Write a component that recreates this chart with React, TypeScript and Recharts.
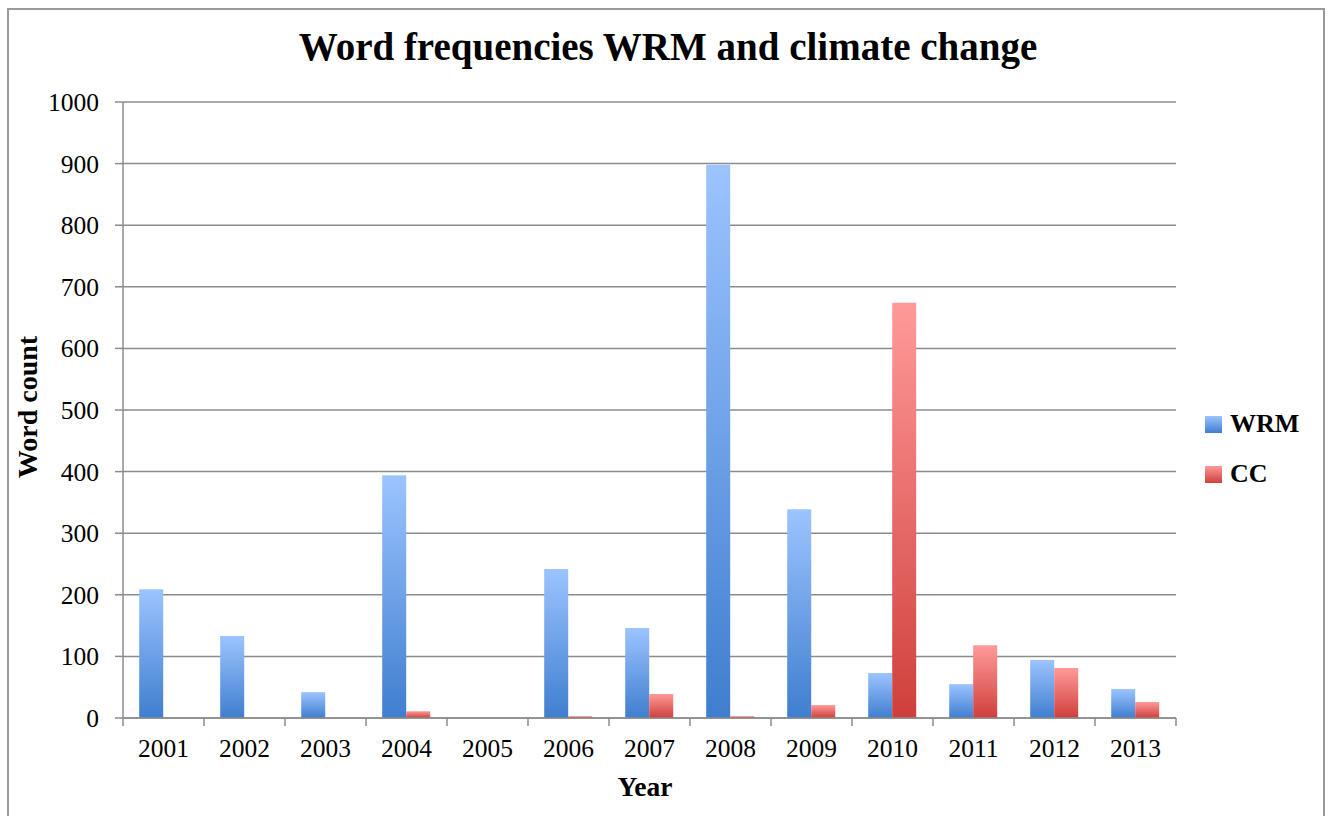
import React from 'react';
import { BarChart, Bar, XAxis, YAxis, CartesianGrid } from 'recharts';

const years = ['2001', '2002', '2003', '2004', '2005', '2006', '2007', '2008', '2009', '2010', '2011', '2012', '2013'];
const wrmCounts = [209, 133, 42, 394, 0, 242, 146, 898, 339, 73, 55, 94, 47];
const ccCounts = [0, 0, 0, 11, 0, 3, 39, 3, 21, 674, 118, 81, 26];
const yTicks = [0, 100, 200, 300, 400, 500, 600, 700, 800, 900, 1000];

const data = years.map((year, i) => ({ year, WRM: wrmCounts[i], CC: ccCounts[i] }));

const FONT = '"Liberation Serif", "DejaVu Serif", serif';
const AXIS_GREY = '#8c8c8c';

// Excel style: label in the middle, tick mark on the category boundary
function YearTick(props: any) {
    const { x, payload, index } = props;
    const half = payload?.offset ?? 40.5;
    const axisY = 718;
    return (
        <g>
            <line x1={x - half} y1={axisY} x2={x - half} y2={axisY + 8} stroke={AXIS_GREY} strokeWidth={1.5} />
            {index === years.length - 1 && (
                <line x1={x + half} y1={axisY} x2={x + half} y2={axisY + 8} stroke={AXIS_GREY} strokeWidth={1.5} />
            )}
            <text x={x} y={axisY + 39} textAnchor="middle" fontSize={25.5} fontFamily={FONT} fill="#000">
                {payload.value}
            </text>
        </g>
    );
}

function LegendBox() {
    const items = [
        { name: 'WRM', fill: 'url(#wrmGrad)' },
        { name: 'CC', fill: 'url(#ccGrad)' },
    ];
    return (
        <div style={{ fontFamily: FONT }}>
            {items.map((it) => (
                <div key={it.name} style={{ display: 'flex', alignItems: 'center', height: 50 }}>
                    <svg width={17} height={17} style={{ marginRight: 8 }}>
                        <rect width={17} height={17} fill={it.fill} />
                    </svg>
                    <span style={{ fontSize: 26, fontWeight: 700, color: '#000' }}>{it.name}</span>
                </div>
            ))}
        </div>
    );
}

export default function App() {
    return (
        <div style={{ position: 'absolute', left: 0, top: 0, width: 1330, height: 816, background: '#fff', overflow: 'hidden' }}>
            <div
                style={{
                    position: 'absolute', left: 7, top: 8, width: 1318, height: 820,
                    border: '2px solid #9a9a9a', boxSizing: 'border-box',
                }}
            />
            <svg width={0} height={0} style={{ position: 'absolute' }}>
                <defs>
                    <linearGradient id="wrmGrad" x1="0" y1="0" x2="0" y2="1">
                        <stop offset="0%" stopColor="#9cc4ff" />
                        <stop offset="100%" stopColor="#3f7ecf" />
                    </linearGradient>
                    <linearGradient id="ccGrad" x1="0" y1="0" x2="0" y2="1">
                        <stop offset="0%" stopColor="#ff9a99" />
                        <stop offset="100%" stopColor="#cf3f3b" />
                    </linearGradient>
                </defs>
            </svg>
            <div
                style={{
                    position: 'absolute', left: 0, width: 1336, top: 24, textAlign: 'center',
                    fontFamily: FONT, fontWeight: 700, fontSize: 39, color: '#000',
                }}
            >
                Word frequencies WRM and climate change
            </div>
            <div
                style={{
                    position: 'absolute', left: 28, top: 407, transform: 'translate(-50%, -50%) rotate(-90deg)',
                    fontFamily: FONT, fontWeight: 700, fontSize: 28, whiteSpace: 'nowrap', color: '#000',
                }}
            >
                Word count
            </div>
            <div
                style={{
                    position: 'absolute', left: 645, top: 787, transform: 'translate(-50%, -50%)',
                    fontFamily: FONT, fontWeight: 700, fontSize: 27.5, color: '#000',
                }}
            >
                Year
            </div>
            <div style={{ position: 'absolute', left: 0, top: 0 }}>
                <BarChart
                    width={1330}
                    height={816}
                    data={data}
                    margin={{ top: 102, right: 154, bottom: 68, left: 63 }}
                    barCategoryGap="20%"
                    barGap={0}
                >
                    <CartesianGrid vertical={false} stroke={AXIS_GREY} strokeWidth={1.5} />
                    <XAxis
                        dataKey="year"
                        height={30}
                        tick={<YearTick />}
                        tickLine={false}
                        stroke={AXIS_GREY}
                        strokeWidth={1.5}
                        interval={0}
                    />
                    <YAxis
                        width={60}
                        domain={[0, 1000]}
                        ticks={yTicks}
                        interval={0}
                        tickSize={8}
                        tickMargin={16}
                        stroke={AXIS_GREY}
                        strokeWidth={1.5}
                        tick={{ fontSize: 25.5, fontFamily: FONT, fill: '#000' }}
                    />
                    <Bar dataKey="WRM" fill="url(#wrmGrad)" isAnimationActive={false} />
                    <Bar dataKey="CC" fill="url(#ccGrad)" isAnimationActive={false} />
                </BarChart>
            </div>
            <div style={{ position: 'absolute', left: 1205, top: 399 }}>
                <LegendBox />
            </div>
        </div>
    );
}
